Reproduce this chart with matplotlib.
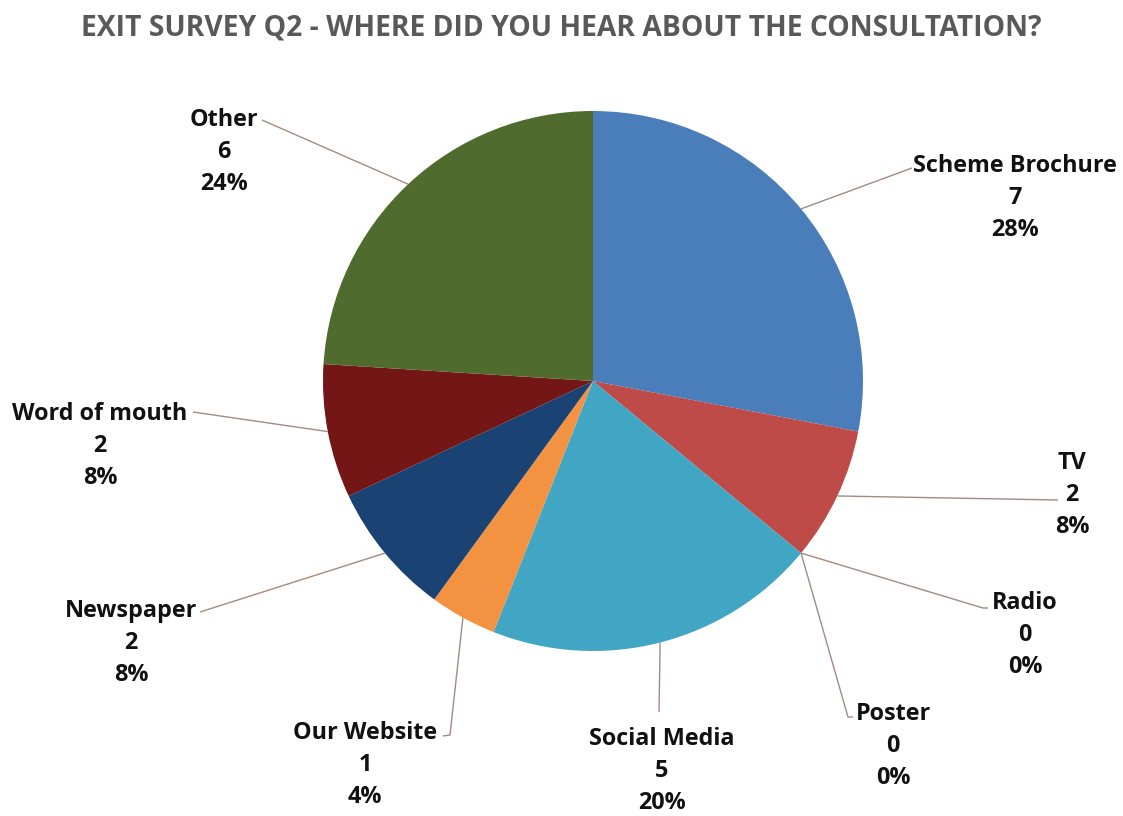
import matplotlib
matplotlib.use("Agg")
import matplotlib.pyplot as plt
import numpy as np

categories = ["Scheme Brochure", "TV", "Radio", "Poster", "Social Media",
              "Our Website", "Newspaper", "Word of mouth", "Other"]
counts = [7, 2, 0, 0, 5, 1, 2, 2, 6]
colors = ["#4A7EBB", "#BE4B48", "#7F9C3F", "#8064A2", "#41A6C4",
          "#F39240", "#1A4272", "#741516", "#4F6B2D"]

title = "EXIT SURVEY Q2 - WHERE DID YOU HEAR ABOUT THE CONSULTATION?"

W, H = 1123, 816
fig = plt.figure(figsize=(W / 100, H / 100), dpi=100)
ax = fig.add_axes([0, 0, 1, 1])

def py(y):
    return H - y

cx, cy, R = 593, 381, 270
wedges, _ = ax.pie(counts, colors=colors, startangle=90, counterclock=False,
                   center=(cx, py(cy)), radius=R,
                   wedgeprops=dict(edgecolor="none", linewidth=0))
ax.set_xlim(0, W)
ax.set_ylim(0, H)
ax.set_aspect("equal")
ax.axis("off")

# label layout: text block centre (pixels) and leader path end points (pixels)
label_pos = {
    "Scheme Brochure": (1015, 198),
    "TV": (1072, 495),
    "Radio": (1025, 635),
    "Poster": (893, 746),
    "Social Media": (662, 771),
    "Our Website": (365, 765),
    "Newspaper": (131, 643),
    "Word of mouth": (100, 446),
    "Other": (224, 152),
}
leader_paths = {
    "Scheme Brochure": [(912, 168)],
    "TV": [(1058, 500)],
    "Radio": [(983, 608), (988, 608)],
    "Poster": [(848, 717), (853, 717)],
    "Social Media": [(659, 712)],
    "Our Website": [(450, 735), (443, 736)],
    "Newspaper": [(200, 612)],
    "Word of mouth": [(193, 412)],
    "Other": [(262, 120)],
}

total = sum(counts)
for w, name, n in zip(wedges, categories, counts):
    mid = np.deg2rad((w.theta1 + w.theta2) / 2)
    ax_ = cx + R * np.cos(mid)
    ay_ = py(cy) + R * np.sin(mid)
    pts = [(ax_, ay_)] + [(x, py(y)) for x, y in leader_paths[name]]
    xs, ys = zip(*pts)
    ax.plot(xs, ys, color="#A08C80", lw=1.0, solid_capstyle="butt", zorder=1)
    tx, ty = label_pos[name]
    pct = round(100 * n / total)
    ax.text(tx, py(ty), f"{name}\n{n}\n{pct}%", ha="center", va="center",
            multialignment="center", fontsize=16.8, fontweight="bold",
            family=["Open Sans", "DejaVu Sans"], color="#111111",
            linespacing=1.45)

fig.text(0.5, py(28) / H, title, ha="center", va="center", fontsize=20.3,
         fontweight="bold", family=["Open Sans", "DejaVu Sans"], color="#595959")

fig.savefig("out.png", dpi=100, facecolor="white")
